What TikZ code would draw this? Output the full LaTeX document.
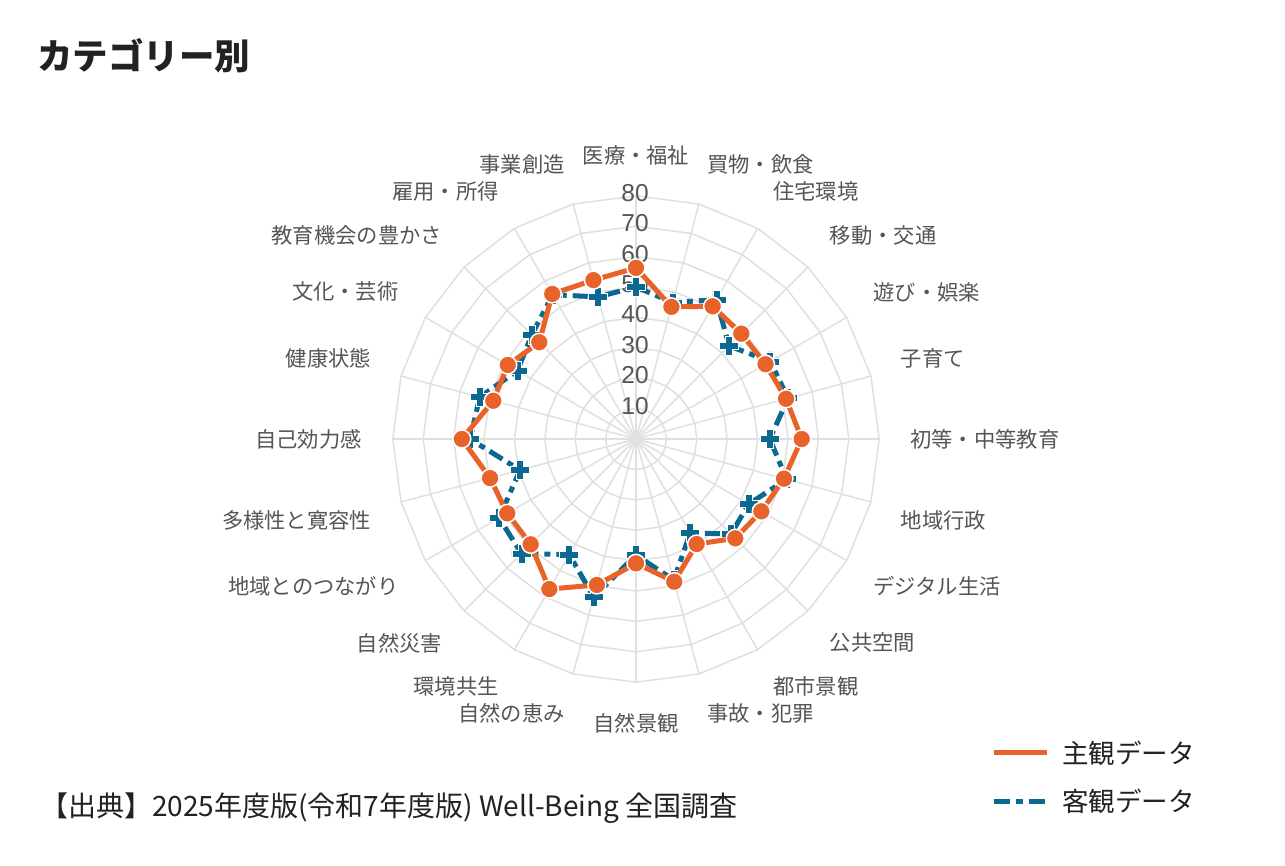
\documentclass[tikz,border=0pt]{standalone}
\usepackage{xcolor}
\usepackage{tikz}
\usepackage{fontspec}
\setmainfont{Noto Sans CJK JP}
\newfontfamily\tickfont{Liberation Sans}
\usetikzlibrary{calc}
\definecolor{subj}{HTML}{E8632A}
\definecolor{obj}{HTML}{0B6890}
\definecolor{gridgray}{HTML}{E0E0E0}
\definecolor{labgray}{HTML}{555555}
\definecolor{inkblack}{HTML}{222222}

\begin{document}
\begin{tikzpicture}[x=1pt,y=1pt]
	\tikzstyle{gridline}=[draw=gridgray, line width=1.5pt, line join=round]
	\tikzstyle{axislabel}=[text=labgray, font=\fontsize{21.3}{21.3}\selectfont, inner sep=0pt]
	\tikzstyle{ticklabel}=[text=labgray, font=\tickfont\fontsize{24.5}{24.5}\selectfont, inner sep=0pt]
	\tikzstyle{subjline}=[draw=subj, line width=5pt, line join=round]
	\tikzstyle{objline}=[draw=obj, line width=5pt, line join=round, dash pattern=on 15pt off 6pt on 6pt off 6pt]
	\tikzstyle{subjmark}=[circle, fill=subj, draw=white, line width=1.5pt, minimum size=18pt, inner sep=0pt]
	\tikzstyle{objmark}=[fill=obj, draw=white, line width=0.8pt]
	\tikzstyle{legendtext}=[text=inkblack, font=\fontsize{26.5}{26.5}\selectfont, anchor=west, inner sep=0pt]
	\useasboundingbox[fill=white] (0,0) rectangle (1285,865);

	\node[text=inkblack, font=\bfseries\fontsize{35.5}{35.5}\selectfont, anchor=west, inner sep=0pt] (title) at (37,809) {カテゴリー別};

	\begin{scope}[shift={(636,426)}]
		% grid
		\foreach \r in {1,...,8}
			\draw[gridline] (90:{30.4*\r}) \foreach \i in {1,...,23} { -- ({90-15*\i}:{30.4*\r}) } -- cycle;
		\foreach \i in {0,...,23}
			\draw[gridline] (0,0) -- ({90-15*\i}:243.2);

		% axis labels
		\foreach \name/\anc [count=\i from 0] in {医療・福祉/south, 買物・飲食/south west, 住宅環境/south west,
				移動・交通/south west, 遊び・娯楽/south west, 子育て/south west, 初等・中等教育/west,
				地域行政/north west, デジタル生活/north west, 公共空間/north west, 都市景観/north west,
				事故・犯罪/north west, 自然景観/north, 自然の恵み/north east, 環境共生/north east,
				自然災害/north east, 地域とのつながり/north east, 多様性と寛容性/north east, 自己効力感/east,
				健康状態/south east, 文化・芸術/south east, 教育機会の豊かさ/south east, 雇用・所得/south east,
				事業創造/south east}
			\node[axislabel, anchor=\anc] (lab\i) at ({90-15*\i}:274) {\name};

		% radial ticks
		\foreach \v in {10,20,...,80}
			\node[ticklabel] (tick\v) at (-1,{3.04*\v+3}) {\v};

		% data
		\foreach \v [count=\i from 0] in {50.0,46.5,52.9,43.3,51.0,51.8,44.0,51.3,42.8,44.2,35.7,48.0,
				38.2,53.8,43.9,53.3,52.0,39.5,54.6,53.2,45.0,48.5,54.8,48.4}
			\coordinate (o\i) at ({90-15*\i}:{3.04*\v});
		\foreach \v [count=\i from 0] in {56.3,45.0,50.4,49.0,49.2,51.1,54.5,50.4,47.6,46.2,39.9,48.6,
				40.9,49.7,57.0,49.0,48.9,49.7,57.3,48.6,48.7,45.0,55.1,54.1}
			\coordinate (s\i) at ({90-15*\i}:{3.04*\v});

		\draw[objline] (o0) \foreach \i in {1,...,23} { -- (o\i) } -- cycle;
		\foreach \i in {0,...,23}
			\path[objmark] (o\i) ++(-3.5,9.5) -- ++(7,0) -- ++(0,-6) -- ++(6,0) -- ++(0,-7) -- ++(-6,0)
				-- ++(0,-6) -- ++(-7,0) -- ++(0,6) -- ++(-6,0) -- ++(0,7) -- ++(6,0) -- cycle;

		\draw[subjline] (s0) \foreach \i in {1,...,23} { -- (s\i) } -- cycle;
		\foreach \i in {0,...,23}
			\node[subjmark] (sm\i) at (s\i) {};
	\end{scope}

	% legend
	\coordinate (sa) at (994,112);
	\coordinate (sb) at (1047,112);
	\coordinate (oa) at (994,64);
	\coordinate (ob) at (1047,64);
	\draw[draw=subj, line width=5pt] (sa) -- (sb);
	\draw[draw=obj, line width=5pt, dash pattern=on 16pt off 6pt on 7pt off 6pt] (oa) -- (ob);
	\node[legendtext] (subjkey) at (1062,112) {主観データ};
	\node[legendtext] (objkey) at (1062,64) {客観データ};

	\node[text=inkblack, font=\fontsize{28}{28}\selectfont, anchor=west, inner sep=0pt] (source) at (40,57)
		{【出典】2025年度版(令和7年度版) Well-Being 全国調査};
\end{tikzpicture}
\end{document}
